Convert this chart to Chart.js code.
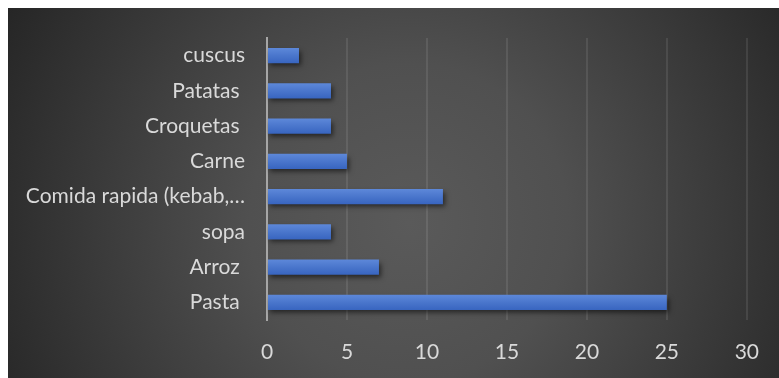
<!DOCTYPE html>
<html>
<head>
<meta charset="utf-8">
<script src="https://cdn.jsdelivr.net/npm/chart.js@4/dist/chart.umd.min.js"></script>
<style>
  html, body { margin: 0; padding: 0; background: #ffffff; overflow: hidden; }
  #wrap {
    position: absolute; left: 8px; top: 8px; width: 771px; height: 370px;
    background: radial-gradient(circle farthest-corner at 52% 58%, #5a5a5a 0%, #505050 35%, #262626 100%);
  }
  #foodChart { display: block; }
</style>
</head>
<body>
<div id="wrap"><canvas id="foodChart" width="771" height="370"></canvas></div>
<script>
// Comidas favoritas (categorías de abajo hacia arriba como en el eje)
const foods = ['Pasta ', 'Arroz ', 'sopa', 'Comida rapida (kebab,…', 'Carne', 'Croquetas ', 'Patatas ', 'cuscus'];
const votes = [25, 7, 4, 11, 5, 4, 4, 2];
const xTicks = [0, 5, 10, 15, 20, 25, 30];

const labelColor = '#d9d9d9';
const labelFont = { family: 'Lato', size: 21 };

// Soft drop shadow under the bars
const barShadow = {
  id: 'barShadow',
  beforeDatasetsDraw(chart) {
    const c = chart.ctx;
    c.save();
    c.shadowColor = 'rgba(0,0,0,0.55)';
    c.shadowBlur = 5;
    c.shadowOffsetX = 2;
    c.shadowOffsetY = 3;
  },
  afterDatasetsDraw(chart) {
    chart.ctx.restore();
  }
};

// Vertical blue gradient for each bar, built from the category pixel
function barFill(context) {
  const chart = context.chart;
  const yScale = chart.scales.y;
  if (!yScale || !chart.chartArea) return '#4472c4';
  const yc = yScale.getPixelForValue(context.dataIndex);
  const half = 8;
  const g = chart.ctx.createLinearGradient(0, yc - half, 0, yc + half);
  g.addColorStop(0, '#5e89da');
  g.addColorStop(0.5, '#4a76cc');
  g.addColorStop(1, '#3764bf');
  return g;
}

new Chart(document.getElementById('foodChart').getContext('2d'), {
  type: 'bar',
  data: {
    labels: foods,
    datasets: [{
      data: votes,
      backgroundColor: barFill,
      borderWidth: 0,
      barPercentage: 0.43,
      categoryPercentage: 1.0
    }]
  },
  options: {
    indexAxis: 'y',
    responsive: false,
    animation: false,
    layout: { padding: { top: 30, right: 30, bottom: 0, left: 0 } },
    plugins: {
      legend: { display: false },
      tooltip: { enabled: false }
    },
    scales: {
      x: {
        min: 0,
        max: 30,
        afterBuildTicks: (scale) => { scale.ticks = xTicks.map(v => ({ value: v })); },
        afterFit: (scale) => { scale.height = 58; },
        grid: { color: 'rgba(255,255,255,0.09)', lineWidth: 2, drawTicks: false },
        border: { display: false },
        ticks: { color: labelColor, font: labelFont, padding: 20 }
      },
      y: {
        reverse: true,
        afterFit: (scale) => {
          scale.width = 259;
          scale.paddingTop = 0;
          scale.paddingBottom = 0;
        },
        grid: { display: false, drawTicks: false },
        border: { color: '#a6a6a6', width: 2 },
        ticks: { color: labelColor, font: labelFont, padding: 22, autoSkip: false }
      }
    }
  },
  plugins: [barShadow]
});
</script>
</body>
</html>
